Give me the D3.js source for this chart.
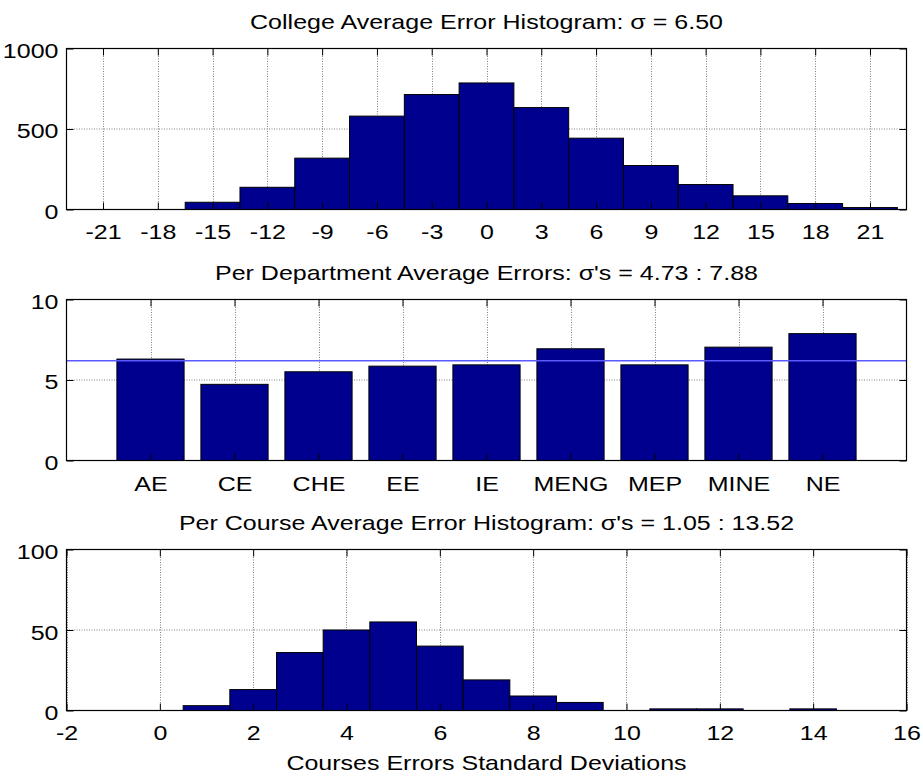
<!DOCTYPE html>
<html><head><meta charset="utf-8">
<script src="https://cdn.jsdelivr.net/npm/d3@7"></script>
<style>
body{margin:0;background:#fff}
text{font-family:"Liberation Sans",Arial,sans-serif;fill:#000}
</style>
</head><body>
<svg id="c" width="923" height="777"></svg>
<script>
// ---- data ----
const collegeCenters = [-21,-18,-15,-12,-9,-6,-3,0,3,6,9,12,15,18,21];
const collegeCounts  = [0,0,45,138,319,580,714,786,633,443,273,155,85,37,12];
const collegeXTicks  = [-21,-18,-15,-12,-9,-6,-3,0,3,6,9,12,15,18,21];
const collegeYTicks  = [0,500,1000];

const departments = ["AE","CE","CHE","EE","IE","MENG","MEP","MINE","NE"];
const deptSigma   = [6.30,4.73,5.51,5.86,5.94,6.94,5.94,7.04,7.88];
const deptMean    = [6.2];
const deptYTicks  = [0,5,10];

const courseCenters = [0,1,2,3,4,5,6,7,8,9,10,11,12,13,14,15,16];
const courseCounts  = [0,3,13,36,50,55,40,19,9,5,0,1,1,0,1,0,0];
const courseXTicks  = [-2,0,2,4,6,8,10,12,14,16];
const courseYTicks  = [0,50,100];

const titles = [
  "College Average Error Histogram: \u03c3 = 6.50",
  "Per Department Average Errors: \u03c3's = 4.73 : 7.88",
  "Per Course Average Error Histogram: \u03c3's = 1.05 : 13.52"
];
const xLabel = "Courses Errors Standard Deviations";

// ---- style ----
const FS = 20.5, SX = 1.22;
const BAR = "#00008f";
const svg = d3.select("#c");
const L = 66.5, R = 906.5;

function label(g, x, y, s, anchor){
  return g.append("text").attr("transform",`translate(${x},${y}) scale(${SX},1)`)
    .attr("text-anchor",anchor||"middle").style("font-size",FS+"px").text(s);
}

function panel(o){
  const g = svg.append("g");
  const x = d3.scaleLinear().domain(o.xd).range([L,R]);
  const y = d3.scaleLinear().domain(o.yd).range([o.bottom,o.top]);
  const id = "clip"+o.key;
  svg.append("clipPath").attr("id",id).append("rect")
    .attr("x",L).attr("y",o.top).attr("width",R-L).attr("height",o.bottom-o.top);
  // grid
  const grid = g.append("g").attr("stroke","#808080").attr("stroke-width",1).attr("stroke-dasharray","1,1.5");
  grid.selectAll(".gx").data(o.xt).join("line")
    .attr("x1",d=>Math.round(x(d))+0.5).attr("x2",d=>Math.round(x(d))+0.5).attr("y1",o.top).attr("y2",o.bottom);
  grid.selectAll(".gy").data(o.yt).join("line")
    .attr("y1",d=>y(d)).attr("y2",d=>y(d)).attr("x1",L).attr("x2",R);
  // bars
  const bg = g.append("g").attr("clip-path",`url(#${id})`);
  bg.selectAll("rect").data(o.centers.map((c,i)=>({c,v:o.values[i]}))).join("rect")
    .attr("x",d=>x(d.c-o.w/2)).attr("width",d=>x(d.c+o.w/2)-x(d.c-o.w/2))
    .attr("y",d=>y(d.v)).attr("height",d=>y(0)-y(d.v))
    .attr("fill",BAR).attr("stroke","#000").attr("stroke-width",1);
  if (o.hline) {
    bg.selectAll(".hl").data(o.hline).join("line")
      .attr("x1",L).attr("x2",R).attr("y1",d=>y(d)).attr("y2",d=>y(d))
      .attr("stroke","#5a5aff").attr("stroke-width",1.5);
  }
  // axes (ticks inside)
  const fmt = o.fmt || (d=>String(d));
  const ab = g.append("g").attr("transform",`translate(0,${o.bottom})`)
    .call(d3.axisBottom(x).tickValues(o.xt).tickSizeInner(-7).tickSizeOuter(0).tickFormat(fmt));
  ab.selectAll("text").attr("y",null).attr("dy",null).attr("text-anchor","middle")
    .style("font-size",FS+"px").attr("transform",`translate(0,${o.xlab}) scale(${SX},1)`);
  g.append("g").attr("transform",`translate(0,${o.top})`)
    .call(d3.axisTop(x).tickValues(o.xt).tickSizeInner(-7).tickSizeOuter(0).tickFormat(""));
  const al = g.append("g").attr("transform",`translate(${L},0)`)
    .call(d3.axisLeft(y).tickValues(o.yt).tickSizeInner(-7).tickSizeOuter(0).tickFormat(d=>String(d)));
  al.selectAll("text").attr("x",null).attr("dy",null).attr("text-anchor","end")
    .style("font-size",FS+"px").attr("transform",`translate(-8,${o.ylab}) scale(${SX},1)`);
  g.append("g").attr("transform",`translate(${R},0)`)
    .call(d3.axisRight(y).tickValues(o.yt).tickSizeInner(-7).tickSizeOuter(0).tickFormat(""));
  g.selectAll(".domain").remove();
  g.selectAll(".tick line").attr("stroke","#000");
  g.selectAll(".tick text").attr("fill","#000").style("font-family",'"Liberation Sans",Arial,sans-serif');
  // box
  g.append("rect").attr("x",L).attr("y",o.top).attr("width",R-L).attr("height",o.bottom-o.top)
    .attr("fill","none").attr("stroke","#000").attr("stroke-width",1.2);
  label(g,(L+R)/2,o.top-20,o.title);
  return g;
}

panel({key:"a",xd:[-23,23],yd:[0,1000],top:48.5,bottom:209.5,xt:collegeXTicks,yt:collegeYTicks,
  centers:collegeCenters,values:collegeCounts,w:3,title:titles[0],xlab:29,ylab:8.5});
panel({key:"b",xd:[0,10],yd:[0,10],top:299.5,bottom:460.5,xt:[1,2,3,4,5,6,7,8,9],yt:deptYTicks,
  centers:[1,2,3,4,5,6,7,8,9],values:deptSigma,w:0.8,title:titles[1],xlab:30,ylab:8.5,
  fmt:d=>departments[d-1],hline:deptMean});
const gc = panel({key:"c",xd:[-2,16],yd:[0,100],top:549.5,bottom:710.5,xt:courseXTicks,yt:courseYTicks,
  centers:courseCenters,values:courseCounts,w:1,title:titles[2],xlab:29.5,ylab:9});
label(gc,(L+R)/2,770,xLabel);
</script>
</body></html>
